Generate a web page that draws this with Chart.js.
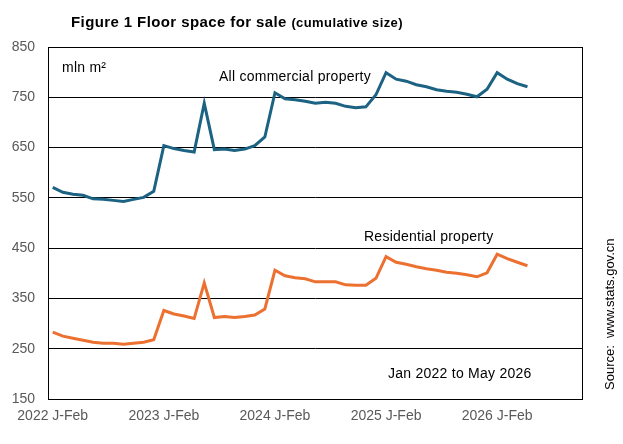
<!DOCTYPE html>
<html>
<head>
<meta charset="utf-8">
<script src="https://cdn.jsdelivr.net/npm/chart.js@4.4.1/dist/chart.umd.min.js"></script>
<style>
  html, body { margin: 0; padding: 0; background: #fff; }
  #wrap { width: 623px; height: 444px; position: relative; }
</style>
</head>
<body>
<div id="wrap"><canvas id="floorChart" width="623" height="444"></canvas></div>
<script>
/* ════════════════════════════════════════════════════════════════════
   DATA  (mln m², Jan 2022 to May 2026, Jan-Feb combined)
   ════════════════════════════════════════════════════════════════════ */
const months = [
  '2022 J-Feb', '2022 Mar', '2022 Apr', '2022 May', '2022 Jun', '2022 Jul', '2022 Aug', '2022 Sep', '2022 Oct', '2022 Nov', '2022 Dec',
  '2023 J-Feb', '2023 Mar', '2023 Apr', '2023 May', '2023 Jun', '2023 Jul', '2023 Aug', '2023 Sep', '2023 Oct', '2023 Nov', '2023 Dec',
  '2024 J-Feb', '2024 Mar', '2024 Apr', '2024 May', '2024 Jun', '2024 Jul', '2024 Aug', '2024 Sep', '2024 Oct', '2024 Nov', '2024 Dec',
  '2025 J-Feb', '2025 Mar', '2025 Apr', '2025 May', '2025 Jun', '2025 Jul', '2025 Aug', '2025 Sep', '2025 Oct', '2025 Nov', '2025 Dec',
  '2026 J-Feb', '2026 Mar', '2026 Apr', '2026 May'
];

const commercial = [
  571, 561, 557, 555, 548, 547, 545, 543, 547, 551, 563,
  654, 648, 644, 641, 738, 646, 647, 644, 647, 654, 671,
  759, 747, 745, 742, 738, 740, 738, 732, 729, 731, 755,
  799, 786, 782, 775, 771, 765, 762, 760, 756, 751, 766,
  799, 786, 777, 771
];

const residential = [
  283, 275, 271, 267, 263, 261, 261, 259, 261, 263, 268,
  326, 319, 315, 310, 381, 312, 314, 312, 314, 317, 329,
  406, 395, 391, 389, 383, 383, 383, 377, 376, 376, 390,
  433, 422, 418, 413, 409, 406, 402, 400, 397, 393, 401,
  438, 429, 422, 415
];

const xTickLabels = ['2022 J-Feb', '2023 J-Feb', '2024 J-Feb', '2025 J-Feb', '2026 J-Feb'];
const yTicks = [150, 250, 350, 450, 550, 650, 750, 850];

const BLUE = '#1c6282';
const ORANGE = '#ec7131';
const GREY = '#595959';
const FONT = "'Liberation Sans', Arial, sans-serif";

const toPoints = arr => arr.map((v, i) => ({ x: i, y: v }));

/* ════════════════════════════════════════════════════════════════════
   TEXT + FRAME
   ════════════════════════════════════════════════════════════════════ */
const decorPlugin = {
  id: 'decor',
  beforeDatasetsDraw(chart) {
    const { ctx, chartArea: a } = chart;
    ctx.save();
    ctx.strokeStyle = '#000';
    ctx.lineWidth = 1;
    ctx.strokeRect(Math.round(a.left) + 0.5, Math.round(a.top) + 0.5,
      Math.round(a.right - a.left) - 1, Math.round(a.bottom - a.top));
    ctx.restore();
  },
  afterDraw(chart) {
    const ctx = chart.ctx;
    ctx.save();
    ctx.fillStyle = '#000';
    ctx.textBaseline = 'alphabetic';

    // title, two weights
    ctx.letterSpacing = '0.4px';
    ctx.font = `bold 15px ${FONT}`;
    const main = 'Figure 1 Floor space for sale ';
    ctx.fillText(main, 71, 27);
    const w = ctx.measureText(main).width;
    ctx.font = `bold 13px ${FONT}`;
    ctx.fillText('(cumulative size)', 71 + w, 27);

    ctx.letterSpacing = '0.25px';
    ctx.font = `14px ${FONT}`;
    ctx.fillText('mln m²', 62, 72);
    ctx.fillText('All commercial property', 219, 81);
    ctx.fillText('Residential property', 364, 241);
    ctx.fillText('Jan 2022 to May 2026', 388, 378);
    ctx.letterSpacing = '0px';

    // source, rotated up the right side
    ctx.font = `13px ${FONT}`;
    ctx.translate(614, 390);
    ctx.rotate(-Math.PI / 2);
    ctx.fillText('Source:  www.stats.gov.cn', 0, 0);
    ctx.restore();
  }
};

const lineStyle = color => ({
  borderColor: color,
  backgroundColor: color,
  borderWidth: 3,
  pointRadius: 0,
  tension: 0,
  fill: false
});

new Chart(document.getElementById('floorChart'), {
  type: 'line',
  data: {
    datasets: [
      { label: 'All commercial property', data: toPoints(commercial), ...lineStyle(BLUE) },
      { label: 'Residential property', data: toPoints(residential), ...lineStyle(ORANGE) }
    ]
  },
  options: {
    responsive: false,
    animation: false,
    devicePixelRatio: 1,
    layout: { padding: { top: 47, right: 40, bottom: 0, left: 0 } },
    plugins: {
      legend: { display: false },
      tooltip: { enabled: false },
      title: { display: false }
    },
    scales: {
      x: {
        type: 'linear',
        min: -0.47,
        max: 52.5,
        afterBuildTicks: scale => {
          scale.ticks = xTickLabels.map(l => ({ value: months.indexOf(l) }));
        },
        afterFit: scale => { scale.height = 45; },
        grid: { display: false, drawTicks: false },
        border: { display: false },
        ticks: {
          autoSkip: false,
          maxRotation: 0,
          padding: 9,
          color: GREY,
          font: { family: FONT, size: 14 },
          callback: v => months[v]
        }
      },
      y: {
        min: 150,
        max: 850,
        afterBuildTicks: scale => {
          scale.ticks = yTicks.map(v => ({ value: v }));
        },
        afterFit: scale => { scale.width = 48; },
        grid: { color: '#000', lineWidth: 1, drawTicks: false },
        border: { display: false },
        ticks: {
          padding: 13,
          color: GREY,
          font: { family: FONT, size: 14 }
        }
      }
    }
  },
  plugins: [decorPlugin]
});
</script>
</body>
</html>
